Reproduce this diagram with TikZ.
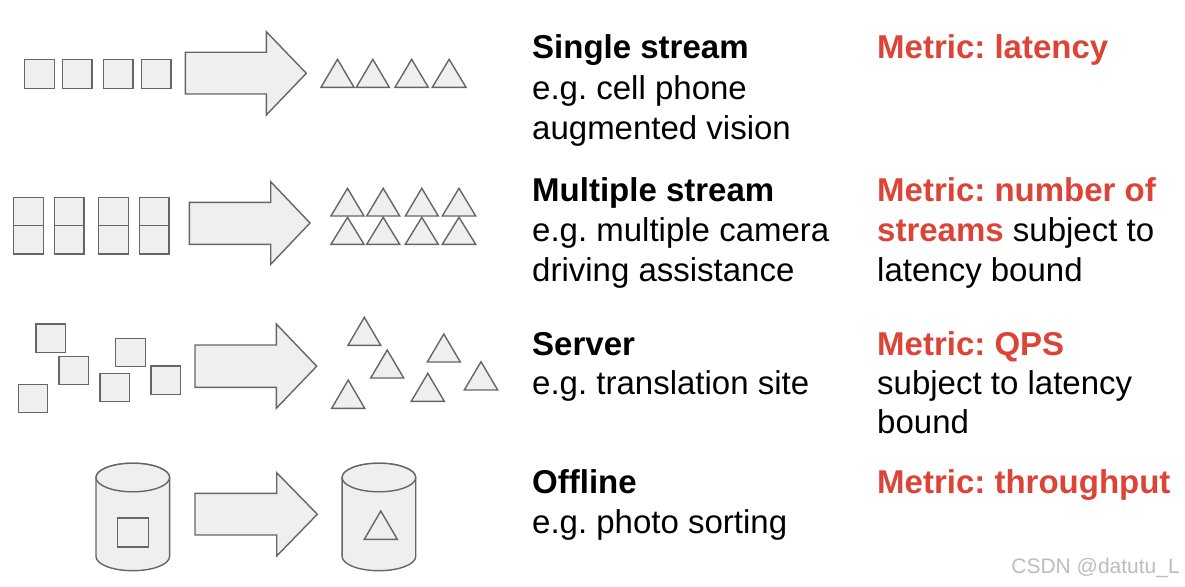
\documentclass[tikz,border=0pt]{standalone}
\usepackage{fontspec}
\setmainfont{Liberation Sans}
\definecolor{shapefill}{HTML}{EFEFEF}
\definecolor{shapeline}{HTML}{666666}
\definecolor{metricred}{HTML}{DC4437}
\definecolor{wmgray}{HTML}{BDBDBD}
\frenchspacing
\begin{document}
\begin{tikzpicture}[x=1pt,y=-1pt,
  shp/.style={fill=shapefill,draw=shapeline,line width=1.4pt,line join=miter},
  txt/.style={anchor=base west,inner sep=0pt,font=\fontsize{33}{40}\selectfont},
  ttl/.style={txt,font=\fontsize{33}{40}\selectfont\bfseries},
  met/.style={ttl,text=metricred}]
\useasboundingbox[fill=white] (0,0) rectangle (1185,586);

% ---------- Row 1: single stream ----------
\foreach \a/\b in {24.3/54.3,62.3/92,103.3/133,141.3/171}
  \draw[shp] (\a,59.3) rectangle (\b,88.3);
\draw[shp] (185.3,52.3) -- (266.3,52.3) -- (266.3,31.7) -- (306.3,73.3) -- (266.3,115) -- (266.3,94) -- (185.3,94) -- cycle;
\foreach \a/\b in {321/354,356.3/389.3,395/428.3,432.3/466}
  \draw[shp] (\a,87.3) -- (\b,87.3) -- ({(\a+\b)/2},59.3) -- cycle;

% ---------- Row 2: multiple stream ----------
\foreach \a/\b in {13.3/43.3,54.3/84,98.7/128.3,139.3/169}{
  \draw[shp] (\a,197.7) rectangle (\b,225.7);
  \draw[shp] (\a,225.7) rectangle (\b,254);
}
\draw[shp] (189.3,202.3) -- (270.7,202.3) -- (270.7,181.7) -- (310,223) -- (270.7,264.3) -- (270.7,244.3) -- (189.3,244.3) -- cycle;
\foreach \a/\b in {331/364,366.7/399.7,405.3/438.3,442.3/475.7}{
  \draw[shp] (\a,216) -- (\b,216) -- ({(\a+\b)/2},188.3) -- cycle;
  \draw[shp] (\a,244.3) -- (\b,244.3) -- ({(\a+\b)/2},217.3) -- cycle;
}

% ---------- Row 3: server ----------
\foreach \a/\b/\c/\d in {36/324/65.7/352.3, 59/356.3/88.7/384.7, 18.3/384.3/47.7/412.7,
  115.7/338.3/145.3/366.7, 100/373.3/129.3/401.3, 151/366/180.3/394.3}
  \draw[shp] (\a,\b) rectangle (\c,\d);
\draw[shp] (195,345) -- (276.3,345) -- (276.3,324) -- (316.7,366.2) -- (276.3,408.3) -- (276.3,387.3) -- (195,387.3) -- cycle;
\foreach \a/\b/\t/\u in {348/380.7/317.3/345.3, 370.7/403.7/350/378, 331.7/364.7/380/408.3,
  427.3/460.3/334/362, 411.3/444.3/373.3/401.3, 464.3/497.7/361.7/390}
  \draw[shp] (\a,\u) -- (\b,\u) -- ({(\a+\b)/2},\t) -- cycle;

% ---------- Row 4: offline ----------
\foreach \cx in {132.8,378.9}{
  \draw[shp] (\cx-36.8,477.5) -- (\cx-36.8,556.4) arc[start angle=180,end angle=360,x radius=36.8,y radius=-14.3]
    -- (\cx+36.8,477.5) arc[start angle=0,end angle=180,x radius=36.8,y radius=-14.3] -- cycle;
  \draw[shp] (\cx,477.5) ellipse[x radius=36.8,y radius=14.3];
}
\draw[shp] (117.7,518) rectangle (148.3,547);
\draw[shp] (364.3,539.3) -- (397.3,539.3) -- (380.8,511) -- cycle;
\draw[shp] (195,493.3) -- (276.7,493.3) -- (276.7,472.7) -- (317.3,514.3) -- (276.7,556) -- (276.7,535) -- (195,535) -- cycle;

% ---------- Texts ----------
\node[ttl] (t1a) at (532,59) {Single stream};
\node[txt] (t1b) at (532,99) {e.g. cell phone};
\node[txt] (t1c) at (532,139) {augmented vision};
\node[met] (m1a) at (877,59) {Metric: latency};

\node[ttl] (t2a) at (532,201) {Multiple stream};
\node[txt] (t2b) at (532,241) {e.g. multiple camera};
\node[txt] (t2c) at (532,281) {driving assistance};
\node[met] (m2a) at (877,201) {Metric: number of};
\node[txt] (m2b) at (877,241) {{\bfseries\color{metricred}streams} subject to};
\node[txt] (m2c) at (877,281) {latency bound};

\node[ttl] (t3a) at (532,355) {Server};
\node[txt] (t3b) at (532,394) {e.g. translation site};
\node[met] (m3a) at (877,355) {Metric: QPS};
\node[txt] (m3b) at (877,394) {subject to latency};
\node[txt] (m3c) at (877,433) {bound};

\node[ttl] (t4a) at (532,493) {Offline};
\node[txt] (t4b) at (532,533) {e.g. photo sorting};
\node[met] (m4a) at (877,493) {Metric: throughput};

\node[anchor=base east,inner sep=0pt,text=wmgray,font=\fontsize{21}{24}\selectfont] (wm) at (1180,573) {CSDN @datutu\_L};
\end{tikzpicture}
\end{document}
